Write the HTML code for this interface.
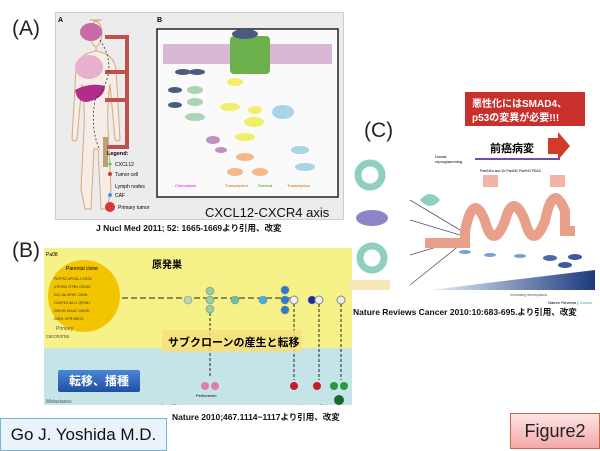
<!DOCTYPE html>
<html><head><meta charset="utf-8"><style>
body{margin:0;width:600px;height:450px;background:#fff;position:relative;overflow:hidden;font-family:"Liberation Sans","Noto Sans CJK JP",sans-serif}
.a{position:absolute}
</style></head><body>
<div class="a" style="left:12px;top:17px;font-size:21px;color:#222">(A)</div>
<div class="a" style="left:12px;top:239px;font-size:21px;color:#222">(B)</div>
<div class="a" style="left:364px;top:119px;font-size:21px;color:#222">(C)</div>

<!-- Panel A -->
<div class="a" style="left:55px;top:12px;width:287px;height:206px;background:#ececec;border:1px solid #ccc"></div>
<svg class="a" style="left:55px;top:12px" width="287" height="206">
<text x="3" y="10" font-size="7" font-weight="bold">A</text>
<text x="102" y="10" font-size="7" font-weight="bold">B</text>
<path d="M35 8 q12 0 12 13 q0 10 -6 14 l0 4 q18 3 20 18 l4 70 q-2 4 -5 0 l-5 -55 q-3 20 -2 45 l3 60 l-4 20 h-6 l-3 -60 h-4 l-3 60 h-6 l-4 -20 l3 -60 q1 -25 -2 -45 l-5 55 q-3 4 -5 0 l4 -70 q2 -15 20 -18 l0 -4 q-6 -4 -6 -14 q0 -13 12 -13z" fill="#f6eee6" stroke="#d9a87a" stroke-width="1"/>
<ellipse cx="36" cy="20" rx="11" ry="9" fill="#c86aa5"/>
<ellipse cx="34" cy="55" rx="14" ry="12" fill="#e8b0cf"/>
<path d="M20 78 q15 -8 30 -4 q0 12 -18 16 q-10 0 -12 -12z" fill="#b02d8c"/>
<rect x="48" y="125" width="5" height="30" fill="#b8a078"/>
<path d="M50 25 h22 v110 h-20 M50 60 h22 M50 88 h22" stroke="#c0504d" stroke-width="4" fill="none"/>
<path d="M45 28 q20 30 -5 60 q-5 30 5 50" stroke="#333" stroke-width="0.8" stroke-dasharray="2 2" fill="none"/>
<text x="52" y="143" font-size="5.5" font-weight="bold">Legend:</text>
<circle cx="55" cy="152" r="1.5" fill="#4c4"/><text x="60" y="154" font-size="5">CXCL12</text>
<circle cx="55" cy="162" r="2" fill="#d33"/><text x="60" y="164" font-size="5">Tumor cell</text>
<text x="60" y="176" font-size="5">Lymph nodes</text>
<circle cx="55" cy="183" r="2" fill="#39f"/><text x="60" y="185" font-size="5">CAF</text>
<circle cx="55" cy="195" r="5" fill="#d33"/><text x="63" y="197" font-size="5">Primary tumor</text>
<rect x="102" y="17" width="181" height="168" fill="#fafafa" stroke="#222" stroke-width="1.5"/>
<rect x="108" y="32" width="169" height="20" fill="#d9b8d6"/>
<rect x="175" y="24" width="40" height="38" fill="#6bb04a" rx="4"/>
<ellipse cx="190" cy="22" rx="13" ry="5" fill="#4a5a80"/>
<g fill="#4a5a80"><ellipse cx="128" cy="60" rx="8" ry="3"/><ellipse cx="142" cy="60" rx="8" ry="3"/><ellipse cx="120" cy="78" rx="7" ry="3"/><ellipse cx="120" cy="93" rx="7" ry="3"/></g>
<g fill="#f3ee6a"><ellipse cx="180" cy="70" rx="8" ry="4"/><ellipse cx="175" cy="95" rx="10" ry="4"/><ellipse cx="199" cy="110" rx="10" ry="5"/><ellipse cx="190" cy="125" rx="10" ry="4"/><ellipse cx="200" cy="98" rx="7" ry="4"/></g>
<g fill="#aad4b4"><ellipse cx="140" cy="78" rx="8" ry="4"/><ellipse cx="140" cy="90" rx="8" ry="4"/><ellipse cx="140" cy="105" rx="10" ry="4"/></g>
<g fill="#a9d3e6"><ellipse cx="245" cy="138" rx="9" ry="4"/><ellipse cx="250" cy="155" rx="10" ry="4"/><ellipse cx="228" cy="100" rx="11" ry="7"/></g>
<g fill="#f5b889"><ellipse cx="190" cy="145" rx="9" ry="4"/><ellipse cx="180" cy="160" rx="8" ry="4"/><ellipse cx="205" cy="160" rx="8" ry="4"/></g>
<g fill="#c090c0"><ellipse cx="158" cy="128" rx="7" ry="4"/><ellipse cx="166" cy="138" rx="6" ry="3"/></g>
<text x="120" y="175" font-size="4" fill="#e0e">Chemotaxis</text>
<text x="170" y="175" font-size="4" fill="#c60">Transcription</text>
<text x="203" y="175" font-size="4" fill="#390">Survival</text>
<text x="232" y="175" font-size="4" fill="#c60">Transcription</text>
<text x="150" y="205" font-size="13" fill="#111">CXCL12-CXCR4 axis</text>
</svg>
<div class="a" style="left:96px;top:222px;font-size:8.5px;font-weight:bold;color:#111;white-space:nowrap">J Nucl Med 2011; 52: 1665-1669より引用、改変</div>

<!-- Panel B -->
<div class="a" style="left:44px;top:248px;width:308px;height:100px;background:#f7f18a"></div>
<div class="a" style="left:44px;top:348px;width:308px;height:57px;background:#c5e4e8"></div>
<svg class="a" style="left:44px;top:248px" width="308" height="157">
<text x="2" y="8" font-size="5">Pa08</text>
<circle cx="40" cy="48" r="36" fill="#f2c500"/>
<text x="22" y="22" font-size="5">Parental clone</text>
<g font-size="3.5" fill="#333"><text x="10" y="32">PATPS2 APOAL1 OSS4</text><text x="10" y="40">ATP2B3 JTPB1 GSS43</text><text x="10" y="48">DCLJAI ARHC CM4A</text><text x="10" y="56">CDNFE3 AKL1 QPHB1</text><text x="10" y="64">DNHS3 KIAAC GWGD</text><text x="10" y="72">EMR1 GPR M8GG</text></g>
<text x="12" y="82" font-size="5" fill="#555">Primary</text><text x="2" y="90" font-size="5" fill="#555">carcinoma</text>
<text x="108" y="20" font-size="10" font-weight="bold">原発巣</text>
<path d="M78 50 H250" stroke="#222" stroke-width="1" stroke-dasharray="6 3"/>
<g stroke="#888" stroke-width="0.6"><circle cx="144" cy="52" r="4" fill="#b3d9b0"/><circle cx="166" cy="52" r="4" fill="#98cfa0"/><circle cx="166" cy="43" r="4" fill="#98cfa0"/><circle cx="166" cy="61" r="4" fill="#98cfa0"/><circle cx="191" cy="52" r="4" fill="#6bbfa0"/><circle cx="219" cy="52" r="4" fill="#33b5e5"/><circle cx="241" cy="42" r="4" fill="#2a7fc8"/><circle cx="241" cy="52" r="4" fill="#2a7fc8"/><circle cx="241" cy="62" r="4" fill="#2a7fc8"/><circle cx="268" cy="52" r="4" fill="#1a2aa0"/></g>
<circle cx="250" cy="52" r="4" fill="#eee" stroke="#888"/><circle cx="275" cy="52" r="4" fill="#eee" stroke="#888"/><circle cx="297" cy="52" r="4" fill="#eee" stroke="#888"/>
<path d="M166 65 V130 M250 56 V132 M275 56 V132 M297 56 V132" stroke="#222" stroke-dasharray="3 2"/>
<rect x="118" y="82" width="140" height="22" fill="#f6e07a" opacity="0.8"/>
<text x="124" y="98" font-size="11" font-weight="bold">サブクローンの産生と転移</text>
<circle cx="161" cy="138" r="4" fill="#e57ab0"/><circle cx="171" cy="138" r="4" fill="#e57ab0"/>
<circle cx="250" cy="138" r="4" fill="#c81b2b"/><circle cx="273" cy="138" r="4" fill="#c81b2b"/><circle cx="290" cy="138" r="4" fill="#2a9a3a"/><circle cx="300" cy="138" r="4" fill="#2a9a3a"/><circle cx="295" cy="152" r="5" fill="#1a6a2a"/>
<text x="152" y="149" font-size="4">Peritoneum</text>
<text x="112" y="166" font-size="11" font-weight="bold">腹膜、骨</text>
<text x="226" y="166" font-size="11" font-weight="bold">肝、脳、肺</text>
<text x="2" y="155" font-size="5" fill="#555">Metastases</text>
</svg>
<div class="a" style="left:58px;top:370px;width:82px;height:22px;background:linear-gradient(#4a86d8,#1f4fa0);color:#fff;font-size:12px;font-weight:bold;line-height:22px;text-align:center;border-radius:2px">転移、播種</div>
<div class="a" style="left:172px;top:411px;font-size:8.5px;font-weight:bold;color:#111;white-space:nowrap">Nature 2010;467.1114−1117より引用、改変</div>
<div class="a" style="left:0px;top:418px;width:165px;height:31px;background:#e8f4fa;border:1px solid #6fb6d8;font-size:17px;line-height:31px;text-align:center;color:#111">Go J. Yoshida M.D.</div>

<!-- Panel C -->
<svg class="a" style="left:350px;top:80px" width="250" height="230">
<defs><linearGradient id="g" x1="0" x2="1"><stop offset="0" stop-color="#e6effa"/><stop offset="1" stop-color="#1c3a7e"/></linearGradient></defs>
<rect x="115" y="12" width="120" height="34" fill="#c9302c"/>
<text x="122" y="27" font-size="10" font-weight="bold" fill="#fff">悪性化にはSMAD4、</text>
<text x="122" y="41" font-size="10" font-weight="bold" fill="#fff">p53の変異が必要!!!</text>
<text x="140" y="72" font-size="11" font-weight="bold">前癌病変</text>
<path d="M198 58 h10 v-6 l12 14 l-12 14 v-6 h-10z" fill="#d23a2a"/>
<rect x="125" y="78" width="85" height="2" fill="#7050a0"/>
<text x="85" y="78" font-size="4">Ductal</text><text x="85" y="83" font-size="4">reprogramming</text>
<text x="130" y="92" font-size="3.5">PanIN1a and 1b   PanIN2    PanIN3    PDAC</text>
<rect x="133" y="95" width="15" height="12" fill="#f3b3a8"/><rect x="200" y="95" width="15" height="12" fill="#f3b3a8"/>
<path d="M70 120 q10 -12 20 0 q-10 12 -20 0" fill="#8fcfc0"/>
<circle cx="20" cy="95" r="12" fill="none" stroke="#8fcfc0" stroke-width="7"/>
<ellipse cx="22" cy="138" rx="16" ry="8" fill="#8a86c8"/>
<circle cx="22" cy="178" r="12" fill="none" stroke="#8fcfc0" stroke-width="7"/>
<rect x="0" y="200" width="40" height="10" fill="#f7e6b8"/>
<path d="M60 120 L110 150 M60 140 L110 155 M60 175 L110 160 M60 205 L110 165" stroke="#556" stroke-width="0.8"/>
<path d="M75 163 h40 v-12 q8 -40 20 -10 q8 30 20 0 q8 -30 20 0 q8 30 20 0 q8 -40 20 -10 v20 h10" fill="none" stroke="#e8a08a" stroke-width="10"/>
<g fill="#7aa0d8"><ellipse cx="115" cy="172" rx="6" ry="2"/><ellipse cx="140" cy="175" rx="6" ry="2"/><ellipse cx="170" cy="176" rx="6" ry="2"/><ellipse cx="200" cy="178" rx="7" ry="3" fill="#4a6ab0"/><ellipse cx="225" cy="177" rx="7" ry="3" fill="#3a5aa0"/><ellipse cx="215" cy="185" rx="7" ry="3" fill="#3a5aa0"/></g>
<path d="M80 210 L245 190 V210 Z" fill="url(#g)"/>
<text x="160" y="216" font-size="3.5" fill="#555">Increasing desmoplasia</text>
<text x="198" y="224" font-size="4">Nature Reviews | <tspan fill="#3ab">Cancer</tspan></text>
</svg>
<div class="a" style="left:353px;top:306px;font-size:8.5px;font-weight:bold;color:#111;white-space:nowrap">Nature Reviews Cancer 2010:10:683-695.より引用、改変</div>
<div class="a" style="left:510px;top:413px;width:88px;height:34px;background:linear-gradient(#fde4e4,#f3a8a8);border:1px solid #c64;font-size:18px;line-height:34px;text-align:center;color:#222">Figure2</div>
</body></html>
